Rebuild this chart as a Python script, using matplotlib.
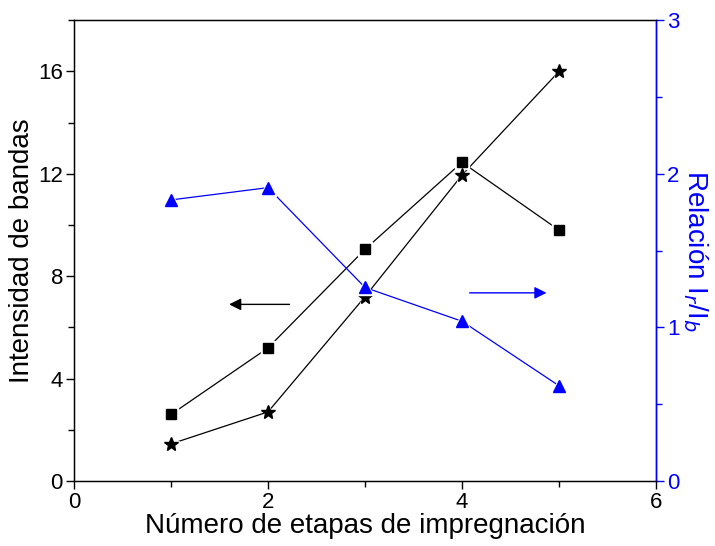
import numpy as np
import matplotlib
matplotlib.use("Agg")
import matplotlib.pyplot as plt
from matplotlib.ticker import MultipleLocator

plt.rcParams['font.family'] = ['Liberation Sans', 'DejaVu Sans']

# datos
etapas = [1, 2, 3, 4, 5]
intensidad_cuadrados = [2.6, 5.2, 9.05, 12.45, 9.8]
intensidad_estrellas = [1.45, 2.7, 7.2, 11.95, 16.0]
relacion = [1.83, 1.91, 1.26, 1.04, 0.62]


def serie(axis, x, y, color, marker, ms):
    # linea con hueco alrededor de los marcadores (estilo Origin)
    axis.plot(x, y, color=color, lw=0.9, zorder=2)
    axis.plot(x, y, ls='none', marker=marker, ms=ms + 2.5, color='white', zorder=3)
    axis.plot(x, y, ls='none', marker=marker, ms=ms, color=color, zorder=4)


fig = plt.figure(figsize=(7.15, 5.46), dpi=100)
ax = fig.add_axes([0.1035, 0.119, 0.814, 0.844])
ax2 = ax.twinx()

serie(ax, etapas, intensidad_cuadrados, 'black', 's', 7.5)
serie(ax, etapas, intensidad_estrellas, 'black', '*', 10)
serie(ax2, etapas, relacion, 'blue', '^', 9)

ax.set_xlim(0, 6)
ax.set_ylim(0, 18)
ax2.set_ylim(0, 3)

ax.xaxis.set_major_locator(MultipleLocator(2))
ax.xaxis.set_minor_locator(MultipleLocator(1))
ax.yaxis.set_major_locator(MultipleLocator(4))
ax.yaxis.set_minor_locator(MultipleLocator(2))
ax2.yaxis.set_major_locator(MultipleLocator(1))
ax2.yaxis.set_minor_locator(MultipleLocator(0.5))

ax.tick_params(which='both', direction='out', top=False, right=False, labelsize=16, width=1, pad=2)
ax.tick_params(which='major', length=6)
ax.tick_params(which='minor', length=4)
ax2.tick_params(which='both', direction='out', colors='blue', labelsize=16, width=1, pad=2)
ax2.tick_params(which='major', length=6)
ax2.tick_params(which='minor', length=4)
ax2.spines['right'].set_color('blue')
for s in ax.spines.values():
    s.set_linewidth(1)
ax2.spines['right'].set_linewidth(1)

ax.set_xlabel('Número de etapas de impregnación', fontsize=20, labelpad=0)
ax.set_ylabel('Intensidad de bandas', fontsize=20, labelpad=2)
ax2.set_ylabel('Relación I$_r$/I$_b$', fontsize=20, color='blue', rotation=-90, labelpad=22)

# flechas
ax.annotate('', xy=(1.57, 6.9), xytext=(2.25, 6.9),
            arrowprops=dict(arrowstyle='-|>', color='black', lw=1, mutation_scale=18))
ax.annotate('', xy=(4.9, 7.35), xytext=(4.05, 7.35),
            arrowprops=dict(arrowstyle='-|>', color='blue', lw=1, mutation_scale=18))

fig.savefig('out.png', dpi=100)
